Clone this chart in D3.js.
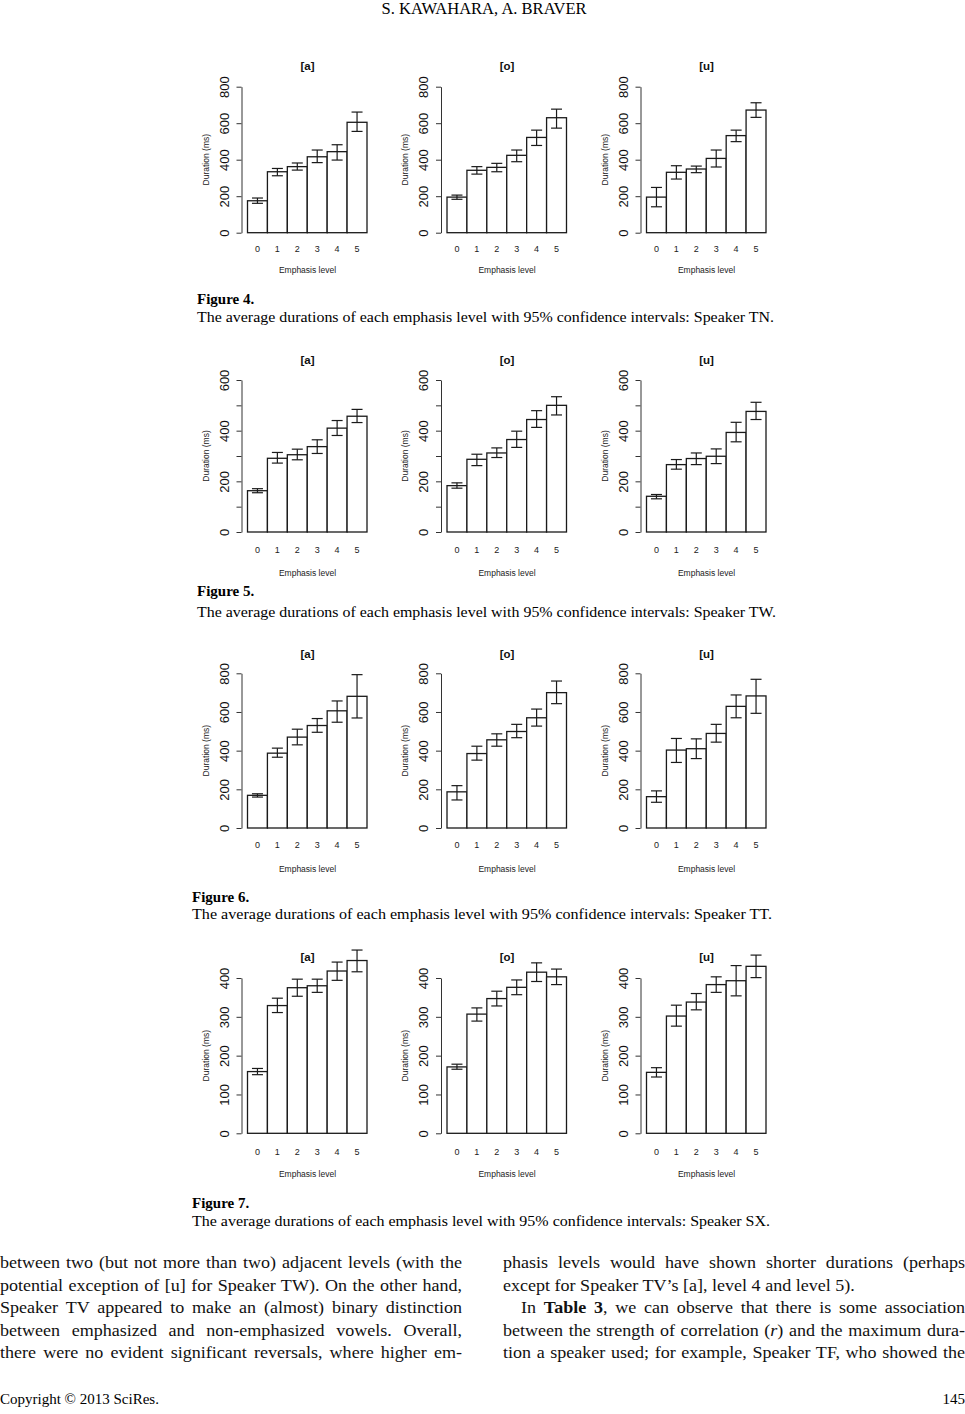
<!DOCTYPE html>
<html><head><meta charset="utf-8">
<script src="https://cdn.jsdelivr.net/npm/d3@7/dist/d3.min.js"></script>
<style>body{margin:0;background:#fff} svg{display:block}</style>
</head><body><svg id="c" width="965" height="1414"></svg>
<script>
// ---------------- DATA ----------------
const levels = ["0","1","2","3","4","5"];
const vowels = ["[a]","[o]","[u]"];
const speakers = ["TN","TW","TT","SX"];
const figureNumbers = [4,5,6,7];

// y-axis ticks (all tick marks) and which of them carry labels
const ticksTN = [0,200,400,600,800];   const labelsTN = [0,200,400,600,800];
const ticksTW = [0,100,200,300,400,500,600]; const labelsTW = [0,200,400,600];
const ticksTT = [0,200,400,600,800];   const labelsTT = [0,200,400,600,800];
const ticksSX = [0,100,200,300,400];   const labelsSX = [0,100,200,300,400];

// Speaker TN (Figure 4): mean, lower CI, upper CI
const tnA = [175,334,362,416,444,605], tnAlo = [161,312,343,384,398,555], tnAhi = [190,352,382,453,482,661];
const tnO = [195,342,358,424,522,630], tnOlo = [183,321,334,389,478,573], tnOhi = [206,362,380,453,562,677];
const tnU = [195,331,349,407,532,672], tnUlo = [142,294,329,360,499,632], tnUhi = [248,367,365,453,562,712];
// Speaker TW (Figure 5)
const twA = [163,291,305,337,410,457], twAlo = [155,272,285,310,381,432], twAhi = [171,314,327,364,440,484];
const twO = [183,287,312,365,444,500], twOlo = [173,262,294,334,413,462], twOhi = [194,307,332,398,479,534];
const twU = [141,266,290,299,393,476], twUlo = [131,248,266,270,356,444], twUhi = [148,286,312,328,433,512];
// Speaker TT (Figure 6)
const ttA = [169,387,470,530,606,681], ttAlo = [160,366,430,495,547,569], ttAhi = [177,413,511,566,657,793];
const ttO = [187,385,456,499,570,700], ttOlo = [145,351,423,467,527,643], ttOhi = [219,423,487,536,615,760];
const ttU = [162,403,410,489,629,683], ttUlo = [133,339,359,444,570,593], ttUhi = [192,463,461,536,688,769];
// Speaker SX (Figure 7)
const sxA = [159,329,375,380,418,445], sxAlo = [151,311,353,363,394,416], sxAhi = [167,348,397,397,441,472];
const sxO = [171,307,347,376,415,403], sxOlo = [165,289,328,357,391,383], sxOhi = [178,323,366,395,439,423];
const sxU = [157,302,338,383,393,430], sxUlo = [145,276,318,363,354,401], sxUhi = [169,330,360,403,432,459];

// ---------------- LAYOUT ----------------
const figs = [
  {ticks:ticksTN, labels:labelsTN, data:[[tnA,tnAlo,tnAhi],[tnO,tnOlo,tnOhi],[tnU,tnUlo,tnUhi]],
   y0:232.7, yTop:86.7, titleY:69.5, xLabY:252, xTitleY:273, figY:304, capY:322, capX:197, capW:577},
  {ticks:ticksTW, labels:labelsTW, data:[[twA,twAlo,twAhi],[twO,twOlo,twOhi],[twU,twUlo,twUhi]],
   y0:532, yTop:380, titleY:364, xLabY:553, xTitleY:576, figY:596, capY:617, capX:197, capW:579},
  {ticks:ticksTT, labels:labelsTT, data:[[ttA,ttAlo,ttAhi],[ttO,ttOlo,ttOhi],[ttU,ttUlo,ttUhi]],
   y0:828, yTop:673.3, titleY:658, xLabY:848, xTitleY:872, figY:902, capY:919, capX:192, capW:580},
  {ticks:ticksSX, labels:labelsSX, data:[[sxA,sxAlo,sxAhi],[sxO,sxOlo,sxOhi],[sxU,sxUlo,sxUhi]],
   y0:1133.3, yTop:978, titleY:961, xLabY:1155, xTitleY:1177, figY:1208, capY:1226, capX:192, capW:578}
];
const axisX0 = 241.5, panelStep = 199.5;

const svg = d3.select("#c");
const sans = "'Liberation Sans', Arial, Helvetica, sans-serif";
const serif = "'Liberation Serif', 'Times New Roman', serif";

figs.forEach((f, fi) => {
  const maxV = d3.max(f.ticks);
  const y = d3.scaleLinear().domain([0, maxV]).range([f.y0, f.yTop]);
  vowels.forEach((v, vi) => {
    const ax = axisX0 + vi * panelStep;
    const [mean, lo, hi] = f.data[vi];
    const x = d3.scaleBand().domain(levels).range([ax + 6, ax + 125.5]).padding(0);
    const g = svg.append("g");
    // y axis
    const axG = g.append("g").attr("transform", `translate(${ax},0)`)
      .call(d3.axisLeft(y).tickValues(f.ticks).tickSizeInner(5).tickSizeOuter(0)
        .tickFormat(d => f.labels.includes(d) ? String(d) : ""));
    axG.select(".domain").attr("stroke", "#333").attr("stroke-width", 1);
    axG.selectAll(".tick line").attr("stroke", "#333").attr("stroke-width", 1);
    axG.selectAll(".tick text")
      .attr("x", null).attr("dy", null).attr("y", null)
      .attr("transform", "translate(-13,0) rotate(-90)")
      .attr("text-anchor", "middle")
      .attr("fill", "#111")
      .style("font-family", sans).style("font-size", "13px");
    axG.attr("font-family", null).attr("font-size", null);
    // bars
    g.selectAll("rect.bar").data(levels).enter().append("rect")
      .attr("x", d => x(d)).attr("width", x.bandwidth())
      .attr("y", (d, i) => y(mean[i])).attr("height", (d, i) => y(0) - y(mean[i]))
      .attr("fill", "#fff").attr("stroke", "#1a1a1a").attr("stroke-width", 1.3);
    // error bars
    const eb = g.selectAll("g.eb").data(levels).enter().append("g");
    eb.append("line")
      .attr("x1", d => x(d) + x.bandwidth() / 2).attr("x2", d => x(d) + x.bandwidth() / 2)
      .attr("y1", (d, i) => y(lo[i])).attr("y2", (d, i) => y(hi[i]));
    eb.append("line")
      .attr("x1", d => x(d) + x.bandwidth() / 2 - 5.5).attr("x2", d => x(d) + x.bandwidth() / 2 + 5.5)
      .attr("y1", (d, i) => y(lo[i])).attr("y2", (d, i) => y(lo[i]));
    eb.append("line")
      .attr("x1", d => x(d) + x.bandwidth() / 2 - 5.5).attr("x2", d => x(d) + x.bandwidth() / 2 + 5.5)
      .attr("y1", (d, i) => y(hi[i])).attr("y2", (d, i) => y(hi[i]));
    eb.selectAll("line").attr("stroke", "#1a1a1a").attr("stroke-width", 1.2);
    // x labels
    g.selectAll("text.xl").data(levels).enter().append("text")
      .attr("x", d => x(d) + x.bandwidth() / 2).attr("y", f.xLabY)
      .attr("text-anchor", "middle").style("font-family", sans).style("font-size", "9px")
      .attr("fill", "#222").text(d => d);
    // axis titles
    g.append("text").attr("x", ax + 66).attr("y", f.xTitleY).attr("text-anchor", "middle")
      .style("font-family", sans).style("font-size", "8.5px").attr("fill", "#222").text("Emphasis level");
    g.append("text")
      .attr("transform", `translate(${ax - 33},${(f.y0 + f.yTop) / 2}) rotate(-90)`)
      .attr("text-anchor", "middle").style("font-family", sans).style("font-size", "8.5px")
      .attr("fill", "#222").text("Duration (ms)");
    // panel title
    g.append("text").attr("x", ax + 66).attr("y", f.titleY).attr("text-anchor", "middle")
      .style("font-family", sans).style("font-size", "11.5px").style("font-weight", "bold")
      .attr("fill", "#111").text(v);
  });
  // caption
  svg.append("text").attr("x", f.capX).attr("y", f.figY)
    .style("font-family", serif).style("font-size", "15px").style("font-weight", "bold")
    .text(`Figure ${figureNumbers[fi]}.`);
  svg.append("text").attr("x", f.capX).attr("y", f.capY)
    .style("font-family", serif).style("font-size", "15px")
    .attr("textLength", f.capW).attr("lengthAdjust", "spacingAndGlyphs")
    .text(`The average durations of each emphasis level with 95% confidence intervals: Speaker ${speakers[fi]}.`);
});

// header
svg.append("text").attr("x", 484).attr("y", 14).attr("text-anchor", "middle")
  .style("font-family", serif).style("font-size", "16px")
  .attr("textLength", 205).attr("lengthAdjust", "spacingAndGlyphs")
  .text("S. KAWAHARA, A. BRAVER");

// body text (condensed serif, justified by word spacing)
const bodyLines = [
  {x:0, y:1268, w:462, j:true, parts:[["between two (but not more than two) adjacent levels (with the",""]]},
  {x:0, y:1290.5, w:462, j:true, parts:[["potential exception of [u] for Speaker TW). On the other hand,",""]]},
  {x:0, y:1313, w:462, j:true, parts:[["Speaker TV appeared to make an (almost) binary distinction",""]]},
  {x:0, y:1335.5, w:462, j:true, parts:[["between emphasized and non-emphasized vowels. Overall,",""]]},
  {x:0, y:1358, w:462, j:true, parts:[["there were no evident significant reversals, where higher em-",""]]},
  {x:503, y:1268, w:462, j:true, parts:[["phasis levels would have shown shorter durations (perhaps",""]]},
  {x:503, y:1290.5, w:292, j:false, parts:[["except for Speaker TV\u2019s [a], level 4 and level 5).",""]]},
  {x:521, y:1313, w:444, j:true, parts:[["In ",""],["Table 3","b"],[", we can observe that there is some association",""]]},
  {x:503, y:1335.5, w:462, j:true, parts:[["between the strength of correlation (",""],["r","i"],[") and the maximum dura-",""]]},
  {x:503, y:1358, w:462, j:true, parts:[["tion a speaker used; for example, Speaker TF, who showed the",""]]}
];
function makeLine(l, s) {
  const t = svg.append("text").attr("transform", `translate(${l.x},${l.y}) scale(${s},1)`)
    .style("font-family", serif).style("font-size", "17.5px").attr("fill", "#111");
  l.parts.forEach(p => {
    const ts = t.append("tspan").text(p[0]);
    if (p[1] === "b") ts.style("font-weight", "bold");
    if (p[1] === "i") ts.style("font-style", "italic");
  });
  return t;
}
// condensing factor: a little narrower than the tightly set first line
const refLine = bodyLines[0];
const probe = makeLine(refLine, 1);
const sc = 0.97 * refLine.w / probe.node().getComputedTextLength();
probe.remove();
bodyLines.forEach(l => {
  const t = makeLine(l, sc);
  if (l.j) {
    const L = t.node().getComputedTextLength();
    const nSp = l.parts.map(p => p[0]).join("").split(" ").length - 1;
    t.style("word-spacing", ((l.w / sc - L) / nSp) + "px");
  }
});

// footer
svg.append("text").attr("x", 0).attr("y", 1404)
  .style("font-family", serif).style("font-size", "15px").text("Copyright \u00A9 2013 SciRes.");
svg.append("text").attr("x", 965).attr("y", 1404).attr("text-anchor", "end")
  .style("font-family", serif).style("font-size", "15px").text("145");
</script></body></html>
